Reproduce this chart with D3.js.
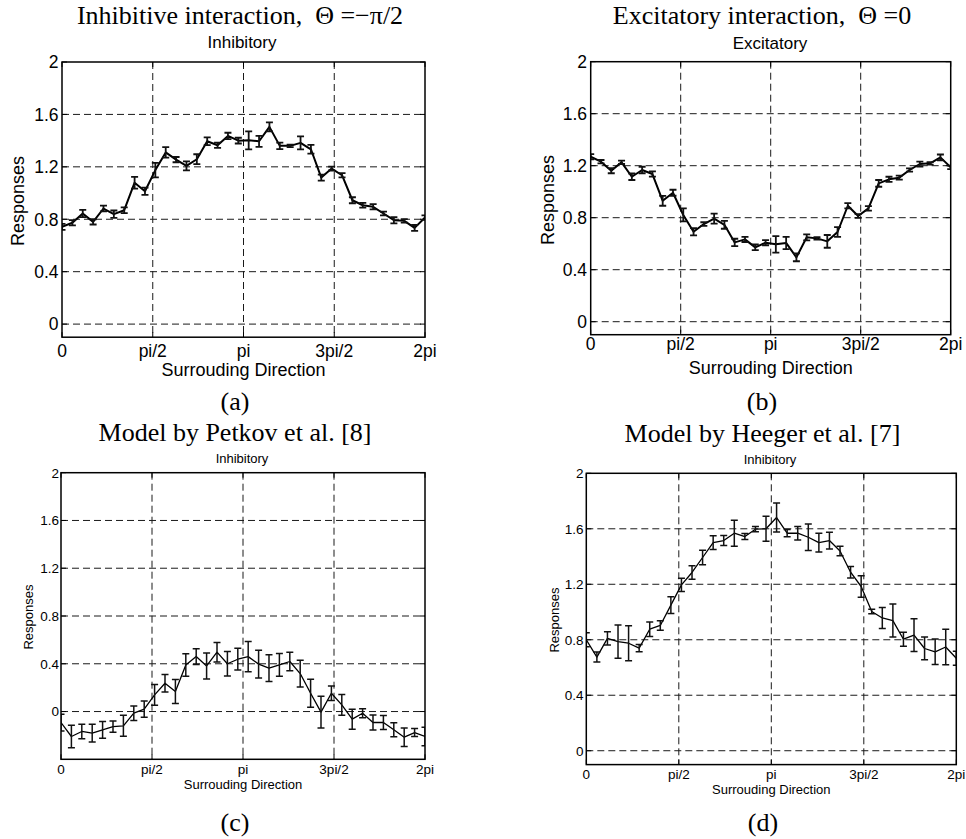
<!DOCTYPE html>
<html>
<head>
<meta charset="utf-8">
<script src="https://cdn.jsdelivr.net/npm/d3@7"></script>
<style>
body { margin: 0; background: #fff; }
svg text { font-family: "Liberation Sans", Arial, sans-serif; fill: #000; }
svg text.serif { font-family: "Liberation Serif", "Times New Roman", serif; white-space: pre; }
</style>
</head>
<body>
<svg id="chart" width="966" height="839"></svg>
<script>
// surround direction samples, degrees (36 samples over 0..2pi)
const directions = [0, 10.29, 20.57, 30.86, 41.14, 51.43, 61.71, 72, 82.29, 92.57, 102.86, 113.14,
  123.43, 133.71, 144, 154.29, 164.57, 174.86, 185.14, 195.43, 205.71, 216, 226.29, 236.57,
  246.86, 257.14, 267.43, 277.71, 288, 298.29, 308.57, 318.86, 329.14, 339.43, 349.71, 360];
const xTickVals = [0, 90, 180, 270, 360];
const xTickLabels = ["0", "pi/2", "pi", "3pi/2", "2pi"];
const yTicks = [0, 0.4, 0.8, 1.2, 1.6, 2];

// (a) inhibitive interaction
const respA = [0.742, 0.773, 0.844, 0.780, 0.882, 0.839, 0.869, 1.079, 1.014, 1.175, 1.310, 1.255,
  1.207, 1.258, 1.395, 1.365, 1.436, 1.400, 1.402, 1.395, 1.505, 1.360, 1.360, 1.383, 1.334, 1.118,
  1.187, 1.136, 0.945, 0.907, 0.895, 0.844, 0.793, 0.788, 0.734, 0.813];
const errA = [0.023, 0.020, 0.028, 0.020, 0.022, 0.028, 0.022, 0.045, 0.028, 0.055, 0.040, 0.020,
  0.034, 0.038, 0.030, 0.020, 0.024, 0.022, 0.069, 0.042, 0.035, 0.025, 0.010, 0.050, 0.033, 0.023,
  0.015, 0.016, 0.023, 0.018, 0.020, 0.014, 0.024, 0.013, 0.022, 0.017];

// (b) excitatory interaction
const respB = [1.269, 1.231, 1.162, 1.226, 1.115, 1.167, 1.136, 0.930, 0.992, 0.821, 0.692, 0.751,
  0.793, 0.745, 0.610, 0.633, 0.572, 0.608, 0.595, 0.606, 0.495, 0.649, 0.641, 0.618, 0.690, 0.892,
  0.813, 0.872, 1.064, 1.095, 1.108, 1.167, 1.213, 1.218, 1.264, 1.187];
const errB = [0.020, 0.013, 0.020, 0.013, 0.025, 0.025, 0.020, 0.038, 0.023, 0.050, 0.028, 0.014,
  0.038, 0.030, 0.028, 0.020, 0.022, 0.020, 0.064, 0.047, 0.030, 0.023, 0.010, 0.049, 0.038, 0.020,
  0.015, 0.017, 0.026, 0.020, 0.015, 0.013, 0.019, 0.010, 0.022, 0.013];

// (c) Petkov model
const respC = [-0.092, -0.209, -0.167, -0.181, -0.153, -0.126, -0.120, -0.014, 0.020, 0.140, 0.237, 0.168,
  0.390, 0.460, 0.382, 0.497, 0.400, 0.438, 0.460, 0.397, 0.363, 0.390, 0.419, 0.318, 0.153, -0.005,
  0.153, 0.056, -0.064, -0.014, -0.092, -0.092, -0.153, -0.215, -0.176, -0.209];
const errC = [0.070, 0.094, 0.061, 0.074, 0.070, 0.047, 0.088, 0.061, 0.068, 0.087, 0.074, 0.100,
  0.094, 0.066, 0.109, 0.082, 0.102, 0.091, 0.126, 0.116, 0.112, 0.095, 0.077, 0.112, 0.117, 0.133,
  0.061, 0.087, 0.084, 0.038, 0.063, 0.059, 0.059, 0.077, 0.033, 0.077];

// (d) Heeger model
const respD = [0.800, 0.675, 0.810, 0.787, 0.775, 0.740, 0.876, 0.903, 1.050, 1.196, 1.285, 1.393,
  1.500, 1.515, 1.568, 1.544, 1.597, 1.600, 1.681, 1.568, 1.568, 1.539, 1.500, 1.515, 1.440, 1.287,
  1.184, 1.004, 0.957, 0.938, 0.804, 0.834, 0.737, 0.713, 0.748, 0.667];
const errD = [0.050, 0.036, 0.048, 0.120, 0.126, 0.026, 0.052, 0.034, 0.060, 0.048, 0.049, 0.053,
  0.049, 0.036, 0.094, 0.022, 0.019, 0.090, 0.104, 0.026, 0.048, 0.096, 0.068, 0.060, 0.034, 0.042,
  0.078, 0.016, 0.076, 0.119, 0.050, 0.118, 0.082, 0.092, 0.128, 0.050];

const svg = d3.select("#chart");

function panel(p) {
  var x = d3.scaleLinear().domain([0, 360]).range([p.left, p.right]);
  var y = d3.scaleLinear().domain(p.yDomain).range([p.bottom, p.top]);
  var g = svg.append("g");

  g.append("clipPath").attr("id", p.id).append("rect")
    .attr("x", p.left).attr("y", p.top).attr("width", p.right - p.left).attr("height", p.bottom - p.top);

  // dashed grid
  g.selectAll(".gx").data(xTickVals.slice(1, -1)).enter().append("line")
    .attr("x1", d => x(d)).attr("x2", d => x(d)).attr("y1", p.top).attr("y2", p.bottom)
    .attr("stroke", "#1a1a1a").attr("stroke-width", 1).attr("stroke-dasharray", "7,4");
  g.selectAll(".gy").data(yTicks.slice(0, -1)).enter().append("line")
    .attr("x1", p.left).attr("x2", p.right).attr("y1", d => y(d)).attr("y2", d => y(d))
    .attr("stroke", "#1a1a1a").attr("stroke-width", 1).attr("stroke-dasharray", "7,4");

  // inner ticks on all sides
  var tk = 5;
  xTickVals.forEach(function (d) {
    g.append("line").attr("x1", x(d)).attr("x2", x(d)).attr("y1", p.bottom).attr("y2", p.bottom - tk).attr("stroke", "#000");
    g.append("line").attr("x1", x(d)).attr("x2", x(d)).attr("y1", p.top).attr("y2", p.top + tk).attr("stroke", "#000");
  });
  yTicks.forEach(function (d) {
    g.append("line").attr("x1", p.left).attr("x2", p.left + tk).attr("y1", y(d)).attr("y2", y(d)).attr("stroke", "#000");
    g.append("line").attr("x1", p.right).attr("x2", p.right - tk).attr("y1", y(d)).attr("y2", y(d)).attr("stroke", "#000");
  });

  // data
  var pts = directions.map((d, i) => ({ x: d, v: p.resp[i], e: p.err[i] }));
  var data = g.append("g").attr("clip-path", "url(#" + p.id + ")");
  data.append("path").datum(pts)
    .attr("d", d3.line().x(d => x(d.x)).y(d => y(d.v)))
    .attr("fill", "none").attr("stroke", "#000").attr("stroke-width", p.lw).attr("stroke-linejoin", "round");
  var cw = 3.5;
  var eb = data.selectAll(".eb").data(pts).enter().append("g")
    .attr("stroke", "#111").attr("stroke-width", p.ew);
  eb.append("line").attr("x1", d => x(d.x)).attr("x2", d => x(d.x)).attr("y1", d => y(d.v - d.e)).attr("y2", d => y(d.v + d.e));
  eb.append("line").attr("x1", d => x(d.x) - cw).attr("x2", d => x(d.x) + cw).attr("y1", d => y(d.v - d.e)).attr("y2", d => y(d.v - d.e));
  eb.append("line").attr("x1", d => x(d.x) - cw).attr("x2", d => x(d.x) + cw).attr("y1", d => y(d.v + d.e)).attr("y2", d => y(d.v + d.e));

  // box
  g.append("rect").attr("x", p.left).attr("y", p.top).attr("width", p.right - p.left).attr("height", p.bottom - p.top)
    .attr("fill", "none").attr("stroke", "#000").attr("stroke-width", 1.5);

  // tick labels
  g.selectAll(".yl").data(yTicks).enter().append("text")
    .attr("x", p.yTickX).attr("y", d => y(d)).attr("dy", "0.36em").attr("text-anchor", "end")
    .style("font-size", p.tickSize + "px").text(d => d);
  g.selectAll(".xl").data(xTickVals).enter().append("text")
    .attr("x", d => x(d)).attr("y", p.xTickY).attr("text-anchor", "middle")
    .style("font-size", p.tickSize + "px").text((d, i) => xTickLabels[i]);

  g.append("text").attr("x", (p.left + p.right) / 2).attr("y", p.xLabelY).attr("text-anchor", "middle")
    .style("font-size", p.labelSize + "px").text("Surrouding Direction");
  g.append("text").attr("transform", "translate(" + p.yLabelX + "," + p.yLabelY + ") rotate(-90)")
    .attr("text-anchor", "middle").style("font-size", p.labelSize + "px").text("Responses");
  g.append("text").attr("x", p.subX).attr("y", p.subY).attr("text-anchor", "middle")
    .style("font-size", p.subSize + "px").text(p.sub);
  g.append("text").attr("class", "serif").attr("x", p.titleX).attr("y", p.titleY).attr("text-anchor", "middle")
    .style("font-size", "26px").text(p.title);
  g.append("text").attr("class", "serif").attr("x", p.capX).attr("y", p.capY).attr("text-anchor", "middle")
    .style("font-size", "26px").text(p.cap);
}

panel({ id: "clipA", left: 62, right: 425, top: 62, bottom: 337.2, yDomain: [-0.1, 2],
  resp: respA, err: errA, lw: 2, ew: 1.8, tickSize: 17.5, labelSize: 18, subSize: 17,
  yTickX: 58.5, xTickY: 357, xLabelY: 376, yLabelX: 24, yLabelY: 201, subX: 242, subY: 48, sub: "Inhibitory",
  titleX: 240, titleY: 24, title: "Inhibitive interaction,\u00a0 \u0398 =\u2212\u03c0/2", capX: 235, capY: 410, cap: "(a)" });

panel({ id: "clipB", left: 590.7, right: 950.7, top: 61.7, bottom: 334.7, yDomain: [-0.1, 2],
  resp: respB, err: errB, lw: 2, ew: 1.8, tickSize: 17.5, labelSize: 18, subSize: 17,
  yTickX: 587, xTickY: 350, xLabelY: 374, yLabelX: 553.5, yLabelY: 200, subX: 770, subY: 49, sub: "Excitatory",
  titleX: 762, titleY: 24, title: "Excitatory interaction,\u00a0 \u0398 =0", capX: 762, capY: 410, cap: "(b)" });

panel({ id: "clipC", left: 61, right: 425, top: 472.7, bottom: 759.3, yDomain: [-0.4, 2],
  resp: respC, err: errC, lw: 1.3, ew: 1.5, tickSize: 13.5, labelSize: 13, subSize: 13,
  yTickX: 59, xTickY: 774, xLabelY: 789, yLabelX: 33, yLabelY: 617, subX: 242, subY: 463, sub: "Inhibitory",
  titleX: 235, titleY: 441, title: "Model by Petkov et al. [8]", capX: 235, capY: 831, cap: "(c)" });

panel({ id: "clipD", left: 586.3, right: 956.3, top: 473.3, bottom: 764.6, yDomain: [-0.1, 2],
  resp: respD, err: errD, lw: 1.3, ew: 1.5, tickSize: 13.5, labelSize: 13, subSize: 13,
  yTickX: 583.5, xTickY: 779, xLabelY: 794, yLabelX: 559, yLabelY: 620, subX: 770, subY: 464, sub: "Inhibitory",
  titleX: 762.5, titleY: 442, title: "Model by Heeger et al. [7]", capX: 763, capY: 831, cap: "(d)" });
</script>
</body>
</html>
